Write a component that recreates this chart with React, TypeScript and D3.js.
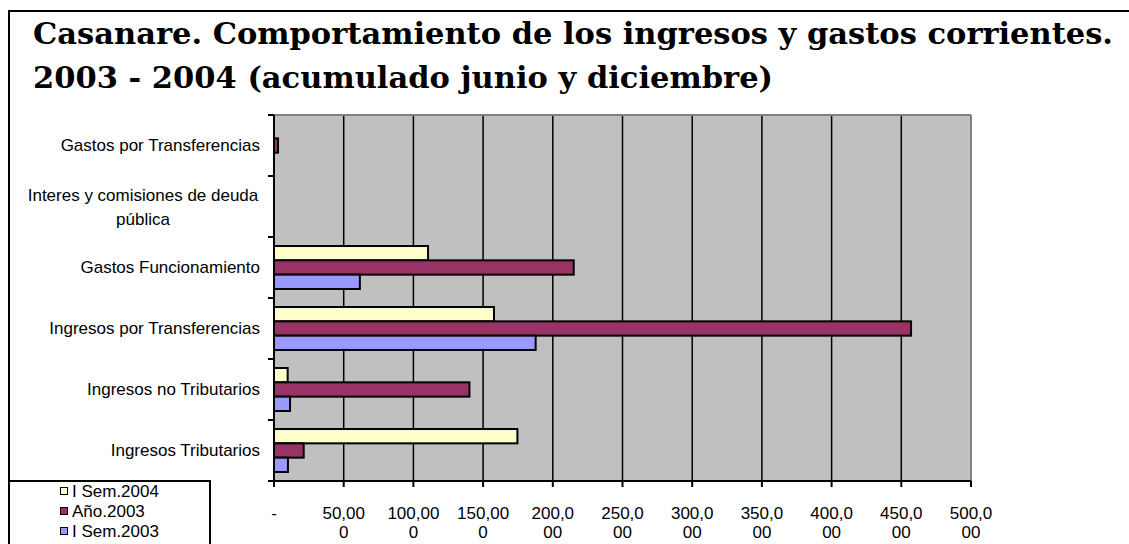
import React from "react";
import * as d3 from "d3";

const categories = [
  "Ingresos Tributarios",
  "Ingresos no Tributarios",
  "Ingresos por Transferencias",
  "Gastos Funcionamiento",
  "Interes y comisiones de deuda pública",
  "Gastos por Transferencias",
];
const seriesNames = ["I Sem.2004", "Año.2003", "I Sem.2003"];
const semestre2004 = [174.6, 9.8, 157.8, 110.5, 0, 0];
const anio2003 = [21.3, 140.2, 457.0, 215.0, 0, 2.9];
const semestre2003 = [10.0, 11.5, 187.7, 61.6, 0, 0];
const xTicks = [0, 50, 100, 150, 200, 250, 300, 350, 400, 450, 500];
const xTickLines: string[][] = [
  ["-"],
  ["50,00", "0"],
  ["100,00", "0"],
  ["150,00", "0"],
  ["200,0", "00"],
  ["250,0", "00"],
  ["300,0", "00"],
  ["350,0", "00"],
  ["400,0", "00"],
  ["450,0", "00"],
  ["500,0", "00"],
];
const colors = ["#FFFFCC", "#993366", "#9999FF"];

export default function App() {
  const left = 274, right = 971, top = 115, bottom = 481;
  const x = d3.scaleLinear().domain([0, 500]).range([left, right]);
  const y = d3.scaleBand<string>().domain(categories).range([bottom, top]).padding(0);
  const band = y.bandwidth();
  const barH = band / (3 + 1.26);
  const gap = band - 3 * barH;
  const inner = d3.scaleBand<string>().domain(seriesNames).range([gap / 2, band - gap / 2]).padding(0);
  const data = [semestre2004, anio2003, semestre2003];
  const font = "'Liberation Sans', Arial, sans-serif";
  const fs = 17;
  const sy = 1.1;

  return (
    <svg width={1129} height={544} style={{ position: "absolute", left: 0, top: 0, background: "#fff" }}>
      <rect x={9} y={11} width={1200} height={600} fill="#fff" stroke="#000" strokeWidth={2} />
      <g fontFamily="'DejaVu Serif', serif" fontWeight="bold" fontSize={27} fill="#000" transform={`scale(1,${sy})`}>
        <text x={33} y={44.5 / sy} textLength={1080} lengthAdjust="spacingAndGlyphs">
          Casanare. Comportamiento de los ingresos y gastos corrientes.
        </text>
        <text x={33} y={88.5 / sy} textLength={740} lengthAdjust="spacingAndGlyphs">
          2003 - 2004 (acumulado junio y diciembre)
        </text>
      </g>
      {/* plot area */}
      <rect x={left} y={top} width={right - left} height={bottom - top} fill="#C0C0C0" />
      {xTicks.slice(1).map((t) => (
        <line key={t} x1={x(t)} x2={x(t)} y1={top} y2={bottom} stroke="#000" strokeWidth={1.5} />
      ))}
      <line x1={left} x2={right} y1={top} y2={top} stroke="#808080" strokeWidth={2} />
      <line x1={right} x2={right} y1={top} y2={bottom} stroke="#808080" strokeWidth={2} />
      {/* bars */}
      {categories.map((c, i) =>
        seriesNames.map((s, j) => {
          const v = data[j][i];
          if (!v) return null;
          return (
            <rect
              key={c + s}
              x={x(0)}
              y={(y(c) as number) + (inner(s) as number)}
              width={x(v) - x(0)}
              height={inner.bandwidth()}
              fill={colors[j]}
              stroke="#000"
              strokeWidth={2}
            />
          );
        })
      )}
      {/* axes */}
      <line x1={left} x2={left} y1={top} y2={bottom} stroke="#000" strokeWidth={2} />
      <line x1={left} x2={right} y1={bottom} y2={bottom} stroke="#000" strokeWidth={2} />
      {categories.map((c) => (
        <line key={c} x1={left - 6} x2={left} y1={y(c) as number} y2={y(c) as number} stroke="#000" strokeWidth={2} />
      ))}
      <line x1={left - 6} x2={left} y1={bottom} y2={bottom} stroke="#000" strokeWidth={2} />
      {xTicks.map((t) => (
        <line key={t} x1={x(t)} x2={x(t)} y1={bottom} y2={bottom + 6} stroke="#000" strokeWidth={2} />
      ))}
      <g fontFamily={font} fontSize={fs} fill="#000">
        {xTicks.map((t, i) =>
          xTickLines[i].map((ln, k) => (
            <text key={t + "-" + k} x={x(t)} y={513 + k * 19} textAnchor="middle" dominantBaseline="central">
              {ln}
            </text>
          ))
        )}
        {categories.map((c) => {
          const cy = (y(c) as number) + band / 2;
          if (c.startsWith("Interes")) {
            return (
              <g key={c}>
                <text x={143} y={cy - 11} textAnchor="middle" dominantBaseline="central">
                  Interes y comisiones de deuda
                </text>
                <text x={143} y={cy + 13} textAnchor="middle" dominantBaseline="central">
                  pública
                </text>
              </g>
            );
          }
          return (
            <text key={c} x={260} y={cy} textAnchor="end" dominantBaseline="central">
              {c}
            </text>
          );
        })}
      </g>
      {/* legend */}
      <rect x={9} y={481} width={201} height={100} fill="#fff" stroke="#000" strokeWidth={2} />
      <g fontFamily={font} fontSize={fs} fill="#000">
        {seriesNames.map((s, j) => {
          const cy = 491 + j * 20;
          return (
            <g key={s}>
              <rect x={60.5} y={cy - 3.5} width={7} height={7} fill={colors[j]} stroke="#000" strokeWidth={1} />
              <text x={72} y={cy} dominantBaseline="central">{s}</text>
            </g>
          );
        })}
      </g>
    </svg>
  );
}
